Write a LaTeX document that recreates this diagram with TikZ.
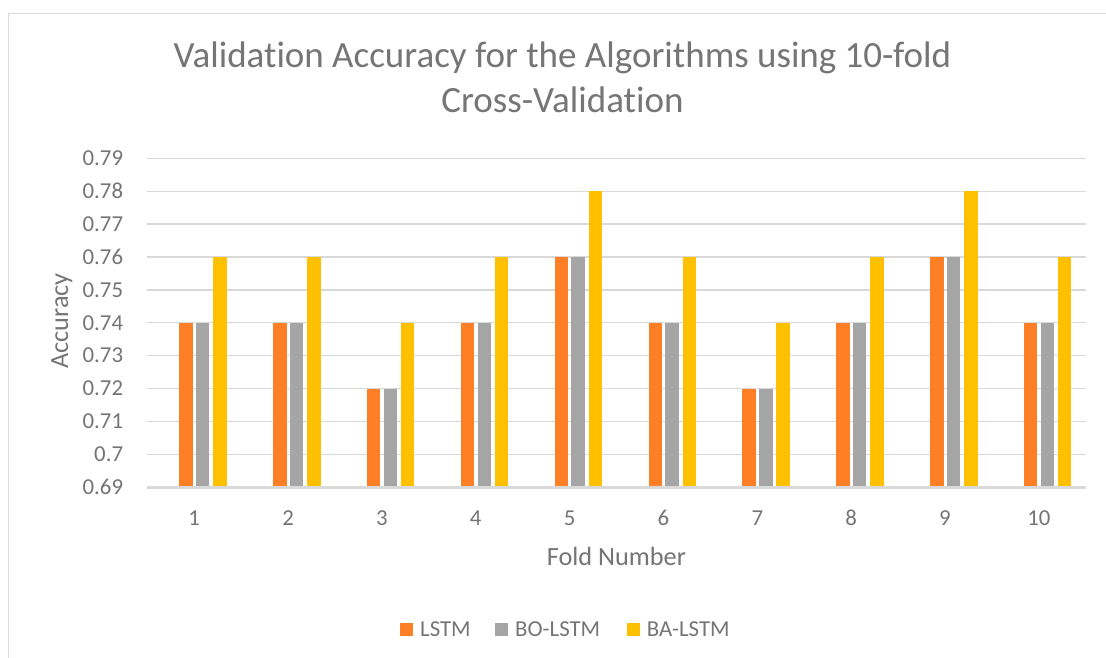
\documentclass[tikz,border=0pt]{standalone}
\usepackage{fontspec}
\setmainfont{Carlito}[Ligatures=NoCommon]
\definecolor{txt}{HTML}{757575}
\definecolor{gridc}{HTML}{D9D9D9}
\definecolor{borderc}{HTML}{D9D9D9}
\definecolor{cLSTM}{HTML}{FF7F27}
\definecolor{cBO}{HTML}{A5A5A5}
\definecolor{cBA}{HTML}{FFC000}
\begin{document}
\begin{tikzpicture}[x=1pt,y=-1pt,
  lbl/.style={text=txt,font=\fontsize{22.8}{27}\selectfont,inner sep=0pt},
  axtitle/.style={text=txt,font=\fontsize{26.3}{30}\selectfont,inner sep=0pt},
  ttl/.style={text=txt,font=\fontsize{37}{42}\selectfont,inner sep=0pt},
  grid line/.style={draw=gridc,line width=1.3pt},
  base line/.style={draw=gridc,line width=2.6pt},
  bar/.style={fill=#1}]
\useasboundingbox (0,0) rectangle (1106,658);
\fill[white] (0,0) rectangle (1106,658);
\draw[borderc,line width=1.5pt] (8.5,658) -- (8.5,13.5) -- (1106,13.5);
% title
\node[ttl,anchor=base] (t1) at (562.5,67.5) {Validation Accuracy for the Algorithms using 10-fold};
\node[ttl,anchor=base] (t2) at (562.5,113) {Cross-Validation};
% grid
\foreach \k in {1,...,10}{
  \draw[grid line] (147.3,{487.3-\k*32.9}) -- (1086,{487.3-\k*32.9});
}
% y labels
\foreach \k/\t in {0/0.69,1/0.7,2/0.71,3/0.72,4/0.73,5/0.74,6/0.75,7/0.76,8/0.77,9/0.78,10/0.79}{
  \node[lbl,anchor=base east] (y\k) at (123.3,{487.3-\k*32.9+7.2}) {\t};
}
% bars
\foreach \i/\a/\b/\c in {1/.74/.74/.76,2/.74/.74/.76,3/.72/.72/.74,4/.74/.74/.76,5/.76/.76/.78,6/.74/.74/.76,7/.72/.72/.74,8/.74/.74/.76,9/.76/.76/.78,10/.74/.74/.76}{
  \pgfmathsetmacro{\L}{147.3+(\i-1)*93.85}
  \fill[bar=cLSTM] ({\L+32},487.3) rectangle ({\L+45.4},{487.3-(\a-0.69)*3290});
  \fill[bar=cBO] ({\L+48.7},487.3) rectangle ({\L+62.1},{487.3-(\b-0.69)*3290});
  \fill[bar=cBA] ({\L+66},487.3) rectangle ({\L+79.4},{487.3-(\c-0.69)*3290});
  \node[lbl,anchor=base] (x\i) at ({\L+46.9},525.7) {\i};
}
\draw[base line] (147.3,487.3) -- (1086,487.3);
% axis titles
\node[axtitle,anchor=base] (xt) at (616.4,565) {Fold Number};
\node[axtitle,anchor=base,rotate=90] (yt) at (68,321) {Accuracy};
% legend
\fill[cLSTM] (400,622.7) rectangle (413.3,636);
\node[lbl,anchor=base west] (l1) at (420,636.6) {LSTM};
\fill[cBO] (495,622.7) rectangle (508.3,636);
\node[lbl,anchor=base west] (l2) at (515,636.6) {BO-LSTM};
\fill[cBA] (626.7,622.7) rectangle (640,636);
\node[lbl,anchor=base west] (l3) at (646.7,636.6) {BA-LSTM};
\end{tikzpicture}
\end{document}
